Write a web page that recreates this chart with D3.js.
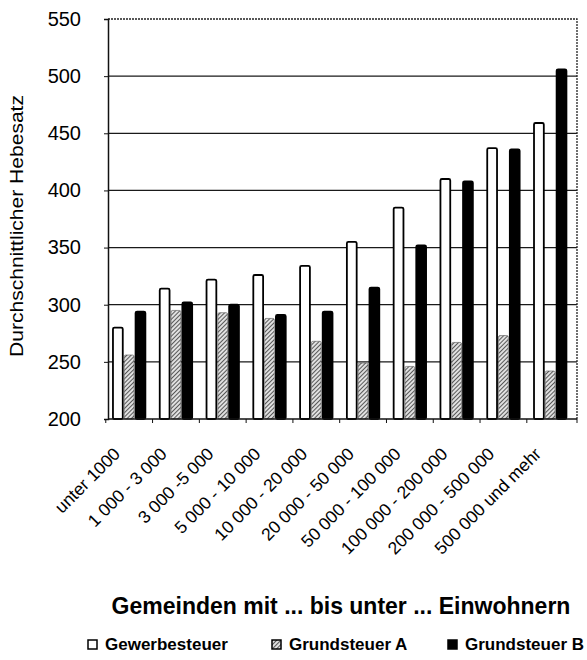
<!DOCTYPE html>
<html>
<head>
<meta charset="utf-8">
<script src="https://cdn.jsdelivr.net/npm/d3@7"></script>
<style>
    body { margin: 0; background: #fff; }
    svg { font-family: "Liberation Sans", Arial, sans-serif; }
</style>
</head>
<body>
<svg id="chart" width="587" height="660"></svg>
<script>
const categories = ["unter 1000", "1 000 - 3 000", "3 000 -5 000", "5 000 - 10 000", "10 000 - 20 000",
    "20 000 - 50 000", "50 000 - 100 000", "100 000 - 200 000", "200 000 - 500 000", "500 000 und mehr"];
const seriesNames = ["Gewerbesteuer", "Grundsteuer A", "Grundsteuer B"];
const gewerbesteuer = [280, 314, 322, 326, 334, 355, 385, 410, 437, 459];
const grundsteuerA = [256, 295, 293, 288, 268, 249, 246, 267, 273, 242];
const grundsteuerB = [294, 302, 300, 291, 294, 315, 352, 408, 436, 506];
const yTicks = [200, 250, 300, 350, 400, 450, 500, 550];

const svg = d3.select("#chart");
const plotLeft = 108, plotRight = 577, plotTop = 19, plotBottom = 419;

const x0 = d3.scaleBand().domain(categories).range([plotLeft, plotRight])
    .paddingInner(0.275).paddingOuter(0.15).align(0.3);
const x1 = d3.scaleBand().domain(seriesNames).range([0, x0.bandwidth()]);
const y = d3.scaleLinear().domain([200, 550]).range([plotBottom, plotTop]);

// hatch pattern for Grundsteuer A
const defs = svg.append("defs");
const pat = defs.append("pattern")
    .attr("id", "hatch")
    .attr("patternUnits", "userSpaceOnUse")
    .attr("width", 3).attr("height", 3)
    .attr("patternTransform", "rotate(45)");
pat.append("rect").attr("width", 3).attr("height", 3).attr("fill", "#e0e0e0");
pat.append("line").attr("x1", 0).attr("y1", 0).attr("x2", 0).attr("y2", 3)
    .attr("stroke", "#2a2a2a").attr("stroke-width", 1.5);

const fills = {"Gewerbesteuer": "#fff", "Grundsteuer A": "url(#hatch)", "Grundsteuer B": "#000"};

// gridlines
svg.append("g").selectAll("line")
    .data(yTicks.filter(d => d > 200 && d < 550))
    .join("line")
    .attr("x1", plotLeft).attr("x2", plotRight)
    .attr("y1", d => y(d)).attr("y2", d => y(d))
    .attr("stroke", "#1a1a1a").attr("stroke-width", 1.2);

// dotted frame top and right
svg.append("path")
    .attr("d", `M${plotLeft},${y(550)}H${plotRight}V${plotBottom}`)
    .attr("fill", "none").attr("stroke", "#222").attr("stroke-width", 1.3)
    .attr("stroke-dasharray", "2,1");

const rows = categories.map((c, i) => ({
    cat: c,
    values: [gewerbesteuer[i], grundsteuerA[i], grundsteuerB[i]]
}));

const groups = svg.append("g").selectAll("g")
    .data(rows)
    .join("g")
    .attr("transform", d => `translate(${x0(d.cat)},0)`);

groups.selectAll("rect")
    .data(d => d.values.map((v, j) => ({name: seriesNames[j], value: v})))
    .join("rect")
    .attr("x", d => x1(d.name) + 0.75)
    .attr("width", x1.bandwidth() - 1.5)
    .attr("y", d => y(d.value))
    .attr("height", d => y(200) - y(d.value))
    .attr("rx", 1.5)
    .attr("fill", d => fills[d.name])
    .attr("stroke", d => d.name === "Grundsteuer A" ? "#555" : "#000")
    .attr("stroke-width", d => d.name === "Grundsteuer A" ? 0.6 : 1.8);

// y axis
const yAxis = d3.axisLeft(y).tickValues(yTicks).tickSize(4).tickPadding(23);
svg.append("g")
    .attr("transform", `translate(${plotLeft},0)`)
    .call(yAxis)
    .call(g => g.select(".domain").attr("stroke", "#111").attr("stroke-width", 1.5))
    .call(g => g.selectAll(".tick line").attr("stroke", "#111"))
    .call(g => g.selectAll("text")
        .attr("font-size", 20)
        .attr("font-family", "Liberation Sans, Arial, sans-serif")
        .attr("fill", "#000"));

// x axis line and ticks between groups
const step = x0.step();
const boundaries = categories.map(c => x0(c) - (step - x0.bandwidth()) / 2).concat([plotRight]);
svg.append("line")
    .attr("x1", plotLeft).attr("x2", plotRight).attr("y1", plotBottom).attr("y2", plotBottom)
    .attr("stroke", "#111").attr("stroke-width", 1.5);
svg.append("g").selectAll("line")
    .data(boundaries)
    .join("line")
    .attr("x1", d => d).attr("x2", d => d)
    .attr("y1", plotBottom).attr("y2", plotBottom + 4)
    .attr("stroke", "#111");

// rotated category labels
svg.append("g").selectAll("text")
    .data(categories)
    .join("text")
    .attr("transform", d => `translate(${x0(d) + x0.bandwidth() / 2 - 8},${455}) rotate(-45)`)
    .attr("text-anchor", "end")
    .attr("font-size", 17.5)
    .text(d => d);

// axis titles
svg.append("text")
    .attr("transform", `translate(23,${226}) rotate(-90)`)
    .attr("text-anchor", "middle")
    .attr("font-size", 18)
    .attr("textLength", 262)
    .attr("lengthAdjust", "spacingAndGlyphs")
    .text("Durchschnittlicher Hebesatz");

svg.append("text")
    .attr("x", 341).attr("y", 614)
    .attr("text-anchor", "middle")
    .attr("font-size", 23)
    .attr("font-weight", "bold")
    .text("Gemeinden mit ... bis unter ... Einwohnern");

// legend
const legendX = [88, 272, 448];
const legend = svg.append("g").selectAll("g")
    .data(seriesNames)
    .join("g")
    .attr("transform", (d, i) => `translate(${legendX[i]},${640})`);
legend.append("rect")
    .attr("width", 9).attr("height", 9)
    .attr("fill", d => fills[d])
    .attr("stroke", "#000").attr("stroke-width", 1.5);
legend.append("text")
    .attr("x", 17).attr("y", 10)
    .attr("font-size", 17)
    .attr("font-weight", "bold")
    .text(d => d);
</script>
</body>
</html>
